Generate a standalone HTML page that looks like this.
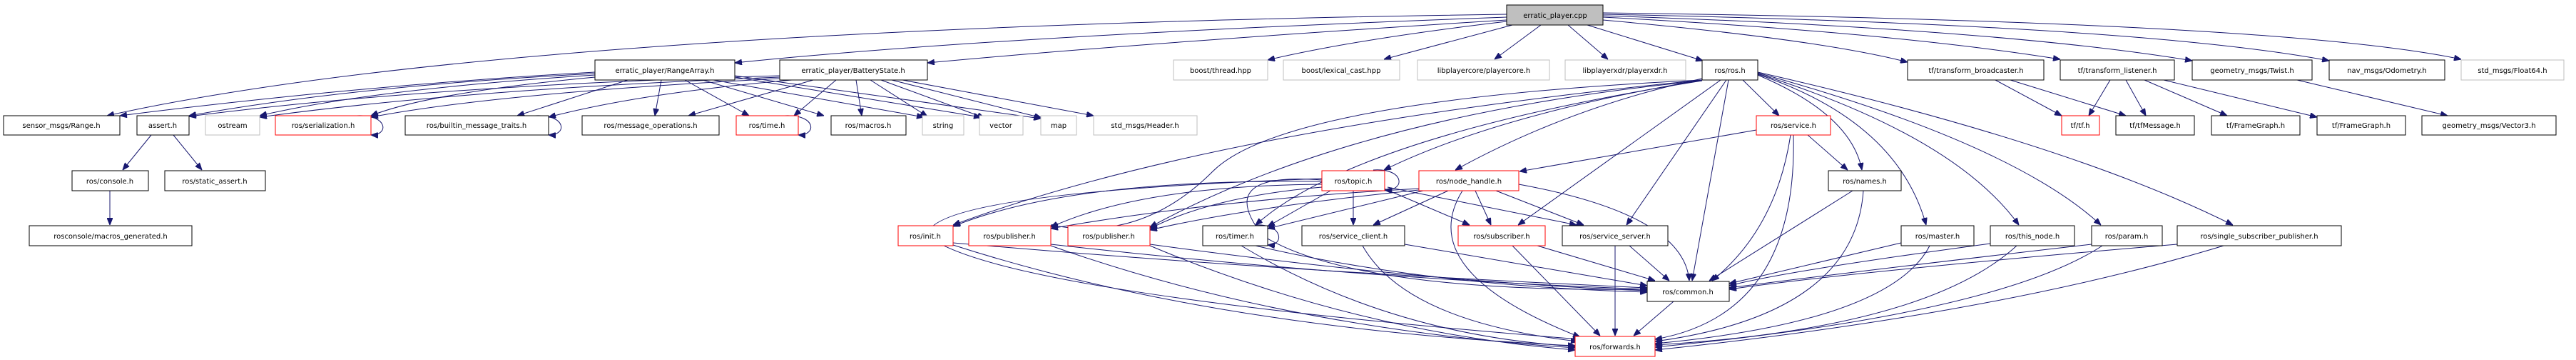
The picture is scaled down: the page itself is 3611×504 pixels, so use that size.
<!DOCTYPE html>
<html><head><meta charset="utf-8"><style>
html,body{margin:0;padding:0;background:#fff;}
svg{display:block}
text{font-family:"DejaVu Sans","Liberation Sans",sans-serif;font-size:10px;text-anchor:middle;fill:#000}
.n{fill:#fff;stroke:#000;stroke-width:1}
.r{fill:#fff;stroke:#ff0000;stroke-width:1}
.g{fill:#fff;stroke:#bfbfbf;stroke-width:1}
.e path,.e line{fill:none;stroke:#191970;stroke-width:1}
</style></head><body>
<svg width="3611" height="504" viewBox="0 0 3611 504" xmlns="http://www.w3.org/2000/svg">
<defs><marker id="a" markerWidth="10" markerHeight="8" refX="10" refY="4" orient="auto" markerUnits="userSpaceOnUse"><path d="M0,0L10,4L0,8z" fill="#191970" stroke="#191970"/></marker></defs>
<g class="e" marker-end="url(#a)">
<!-- cpp edges -->
<path d="M2112,20 Q700,40 150,162" marker-end="url(#a)"/>
<path d="M2112,24 Q1400,50 1030,88" marker-end="url(#a)"/>
<path d="M2112,28 Q1600,60 1300,88" marker-end="url(#a)"/>
<path d="M2112,30 Q1900,55 1777,84" marker-end="url(#a)"/>
<line x1="2120" y1="35" x2="1940" y2="83" marker-end="url(#a)"/>
<line x1="2160" y1="35" x2="2095" y2="83" marker-end="url(#a)"/>
<line x1="2198" y1="35" x2="2254" y2="83" marker-end="url(#a)"/>
<line x1="2225" y1="35" x2="2387" y2="85" marker-end="url(#a)"/>
<path d="M2247,28 Q2550,55 2674,87" marker-end="url(#a)"/>
<path d="M2247,24 Q2650,45 2888,83" marker-end="url(#a)"/>
<path d="M2247,22 Q2800,40 3073,85" marker-end="url(#a)"/>
<path d="M2247,20 Q3000,35 3265,85" marker-end="url(#a)"/>
<path d="M2247,18 Q3200,30 3450,83" marker-end="url(#a)"/>
<!-- RangeArray -->
<path d="M834,101 Q500,120 168,162" marker-end="url(#a)"/>
<path d="M834,103 Q500,120 265,162" marker-end="url(#a)"/>
<path d="M834,105 Q520,125 364,162" marker-end="url(#a)"/>
<path d="M834,108 Q600,130 520,162" marker-end="url(#a)"/>
<line x1="880" y1="112" x2="725" y2="162" marker-end="url(#a)"/>
<line x1="927" y1="112" x2="918" y2="162" marker-end="url(#a)"/>
<line x1="960" y1="112" x2="1050" y2="162" marker-end="url(#a)"/>
<line x1="985" y1="112" x2="1155" y2="162" marker-end="url(#a)"/>
<line x1="1000" y1="112" x2="1295" y2="164" marker-end="url(#a)"/>
<line x1="1030" y1="108" x2="1375" y2="164" marker-end="url(#a)"/>
<line x1="1030" y1="106" x2="1459" y2="166" marker-end="url(#a)"/>
<!-- BatteryState -->
<path d="M1093,106 Q600,120 265,163" marker-end="url(#a)"/>
<path d="M1093,108 Q650,125 364,164" marker-end="url(#a)"/>
<path d="M1093,110 Q700,130 520,164" marker-end="url(#a)"/>
<path d="M1110,112 Q900,130 769,164" marker-end="url(#a)"/>
<line x1="1140" y1="112" x2="965" y2="162" marker-end="url(#a)"/>
<line x1="1172" y1="112" x2="1113" y2="162" marker-end="url(#a)"/>
<line x1="1200" y1="112" x2="1208" y2="162" marker-end="url(#a)"/>
<line x1="1220" y1="112" x2="1300" y2="163" marker-end="url(#a)"/>
<line x1="1235" y1="112" x2="1380" y2="165" marker-end="url(#a)"/>
<line x1="1250" y1="112" x2="1460" y2="165" marker-end="url(#a)"/>
<line x1="1265" y1="112" x2="1533" y2="162" marker-end="url(#a)"/>
<!-- self loops -->
<path d="M500,162 C545,160 545,190 520,189" marker-end="url(#a)"/>
<path d="M750,162 C795,160 795,190 769,189" marker-end="url(#a)"/>
<path d="M1100,162 C1145,160 1145,190 1119,189" marker-end="url(#a)"/>
<path d="M1760,315 C1800,313 1800,345 1777,343" marker-end="url(#a)"/>
<path d="M1925,238 C1970,235 1970,268 1941,266" marker-end="url(#a)"/>
<!-- assert/console -->
<line x1="212" y1="189" x2="172" y2="238" marker-end="url(#a)"/>
<line x1="243" y1="189" x2="283" y2="238" marker-end="url(#a)"/>
<line x1="154" y1="267" x2="154" y2="315" marker-end="url(#a)"/>
<!-- ros.h -->
<line x1="2443" y1="112" x2="2494" y2="162" marker-end="url(#a)"/>
<path d="M2464,105 Q2595,160 2610,238" marker-end="url(#a)"/>
<path d="M2464,104 Q2660,170 2700,315" marker-end="url(#a)"/>
<path d="M2464,103 Q2740,190 2830,315" marker-end="url(#a)"/>
<path d="M2464,102 Q2820,200 2945,315" marker-end="url(#a)"/>
<path d="M2464,101 Q2900,200 3130,315" marker-end="url(#a)"/>
<path d="M2386,110 Q2200,150 2040,238" marker-end="url(#a)"/>
<path d="M2386,112 Q2100,160 1940,238" marker-end="url(#a)"/>
<line x1="2412" y1="112" x2="2128" y2="315" marker-end="url(#a)"/>
<line x1="2420" y1="112" x2="2280" y2="315" marker-end="url(#a)"/>
<line x1="2423" y1="112" x2="2372" y2="393" marker-end="url(#a)"/>
<path d="M2386,112 Q1700,180 1336,315" marker-end="url(#a)"/>
<path d="M2386,112 Q1800,140 1700,240 T1473,315" marker-end="url(#a)"/>
<path d="M2386,113 Q1900,160 1612,318" marker-end="url(#a)"/>
<path d="M2386,113 Q1900,190 1760,315" marker-end="url(#a)"/>
<!-- service.h -->
<line x1="2462" y1="182" x2="2130" y2="240" marker-end="url(#a)"/>
<line x1="2534" y1="189" x2="2590" y2="238" marker-end="url(#a)"/>
<path d="M2510,189 Q2490,320 2400,393" marker-end="url(#a)"/>
<path d="M2514,189 Q2520,440 2320,475" marker-end="url(#a)"/>
<!-- topic.h -->
<line x1="1897" y1="267" x2="1897" y2="315" marker-end="url(#a)"/>
<path d="M1853,254 Q1500,250 1336,317" marker-end="url(#a)"/>
<path d="M1853,258 Q1600,260 1473,318" marker-end="url(#a)"/>
<path d="M1853,262 Q1700,275 1612,320" marker-end="url(#a)"/>
<line x1="1865" y1="267" x2="1777" y2="317" marker-end="url(#a)"/>
<line x1="1940" y1="264" x2="2060" y2="315" marker-end="url(#a)"/>
<line x1="1945" y1="262" x2="2210" y2="315" marker-end="url(#a)"/>
<path d="M1853,250 Q1300,270 1300,330 Q1400,410 2215,475" marker-end="url(#a)"/>
<path d="M1853,252 Q1700,240 1770,330 Q1900,410 2309,405" marker-end="url(#a)"/>
<!-- node_handle -->
<path d="M1989,264 Q1700,280 1473,320" marker-end="url(#a)"/>
<path d="M1989,266 Q1750,290 1612,322" marker-end="url(#a)"/>
<line x1="1995" y1="267" x2="1777" y2="320" marker-end="url(#a)"/>
<line x1="2030" y1="267" x2="1925" y2="315" marker-end="url(#a)"/>
<line x1="2068" y1="267" x2="2090" y2="315" marker-end="url(#a)"/>
<line x1="2097" y1="267" x2="2220" y2="315" marker-end="url(#a)"/>
<path d="M2050,267 Q1980,380 2215,472" marker-end="url(#a)"/>
<path d="M2129,258 Q2360,300 2368,393" marker-end="url(#a)"/>
<!-- row E -> common/forwards -->
<path d="M1336,340 Q1800,380 2309,403" marker-end="url(#a)"/>
<path d="M1336,343 Q1700,460 2208,484" marker-end="url(#a)"/>
<path d="M1473,342 Q1900,390 2309,405" marker-end="url(#a)"/>
<path d="M1473,344 Q1800,460 2208,487" marker-end="url(#a)"/>
<path d="M1612,342 Q2000,395 2309,407" marker-end="url(#a)"/>
<path d="M1612,344 Q1900,465 2208,490" marker-end="url(#a)"/>
<path d="M1760,344 Q2000,400 2309,409" marker-end="url(#a)"/>
<path d="M1740,344 Q1950,470 2210,485" marker-end="url(#a)"/>
<line x1="1969" y1="342" x2="2309" y2="400" marker-end="url(#a)"/>
<path d="M1910,344 Q1970,450 2212,478" marker-end="url(#a)"/>
<line x1="2155" y1="344" x2="2320" y2="393" marker-end="url(#a)"/>
<line x1="2120" y1="344" x2="2243" y2="470" marker-end="url(#a)"/>
<line x1="2284" y1="344" x2="2340" y2="393" marker-end="url(#a)"/>
<line x1="2264" y1="344" x2="2264" y2="470" marker-end="url(#a)"/>
<line x1="2597" y1="267" x2="2396" y2="393" marker-end="url(#a)"/>
<path d="M2612,267 Q2600,440 2320,478" marker-end="url(#a)"/>
<line x1="2665" y1="340" x2="2424" y2="397" marker-end="url(#a)"/>
<path d="M2705,344 Q2650,450 2320,481" marker-end="url(#a)"/>
<path d="M2790,341 Q2500,380 2424,400" marker-end="url(#a)"/>
<path d="M2827,344 Q2700,460 2320,483" marker-end="url(#a)"/>
<path d="M2932,342 Q2600,380 2424,403" marker-end="url(#a)"/>
<path d="M2947,344 Q2800,440 2320,486" marker-end="url(#a)"/>
<path d="M3052,342 Q2600,380 2424,405" marker-end="url(#a)"/>
<path d="M3117,344 Q2800,440 2320,490" marker-end="url(#a)"/>
<line x1="2346" y1="422" x2="2290" y2="470" marker-end="url(#a)"/>
<!-- tf -->
<line x1="2797" y1="112" x2="2890" y2="162" marker-end="url(#a)"/>
<line x1="2818" y1="112" x2="2980" y2="162" marker-end="url(#a)"/>
<line x1="2958" y1="112" x2="2928" y2="162" marker-end="url(#a)"/>
<line x1="2980" y1="112" x2="3008" y2="162" marker-end="url(#a)"/>
<line x1="3006" y1="112" x2="3122" y2="162" marker-end="url(#a)"/>
<line x1="3033" y1="112" x2="3248" y2="164" marker-end="url(#a)"/>
<line x1="3220" y1="112" x2="3431" y2="162" marker-end="url(#a)"/>
</g>
<g>
<rect class="n" x="2112" y="7" width="135" height="28" style="fill:#bfbfbf"/><text x="2180" y="25">erratic_player.cpp</text>
<rect class="n" x="834" y="84" width="196" height="28"/><text x="932" y="102">erratic_player/RangeArray.h</text>
<rect class="n" x="1093" y="84" width="207" height="28"/><text x="1196" y="102">erratic_player/BatteryState.h</text>
<rect class="g" x="1645" y="84" width="132" height="28"/><text x="1711" y="102">boost/thread.hpp</text>
<rect class="g" x="1799" y="84" width="163" height="28"/><text x="1880" y="102">boost/lexical_cast.hpp</text>
<rect class="g" x="1987" y="84" width="185" height="28"/><text x="2080" y="102">libplayercore/playercore.h</text>
<rect class="g" x="2194" y="84" width="169" height="28"/><text x="2278" y="102">libplayerxdr/playerxdr.h</text>
<rect class="n" x="2386" y="84" width="78" height="28"/><text x="2425" y="102">ros/ros.h</text>
<rect class="n" x="2674" y="84" width="191" height="28"/><text x="2770" y="102">tf/transform_broadcaster.h</text>
<rect class="n" x="2888" y="84" width="160" height="28"/><text x="2968" y="102">tf/transform_listener.h</text>
<rect class="n" x="3073" y="84" width="168" height="28"/><text x="3157" y="102">geometry_msgs/Twist.h</text>
<rect class="n" x="3265" y="84" width="162" height="28"/><text x="3346" y="102">nav_msgs/Odometry.h</text>
<rect class="g" x="3450" y="84" width="144" height="28"/><text x="3522" y="102">std_msgs/Float64.h</text>

<rect class="n" x="5" y="162" width="163" height="27"/><text x="86" y="179">sensor_msgs/Range.h</text>
<rect class="n" x="192" y="162" width="73" height="27"/><text x="228" y="179">assert.h</text>
<rect class="g" x="288" y="162" width="76" height="27"/><text x="326" y="179">ostream</text>
<rect class="r" x="386" y="162" width="134" height="27"/><text x="453" y="179">ros/serialization.h</text>
<rect class="n" x="568" y="162" width="201" height="27"/><text x="668" y="179">ros/builtin_message_traits.h</text>
<rect class="n" x="816" y="162" width="192" height="27"/><text x="912" y="179">ros/message_operations.h</text>
<rect class="r" x="1032" y="162" width="87" height="27"/><text x="1075" y="179">ros/time.h</text>
<rect class="n" x="1165" y="162" width="105" height="27"/><text x="1217" y="179">ros/macros.h</text>
<rect class="g" x="1293" y="162" width="58" height="27"/><text x="1322" y="179">string</text>
<rect class="g" x="1373" y="162" width="61" height="27"/><text x="1403" y="179">vector</text>
<rect class="g" x="1459" y="162" width="50" height="27"/><text x="1484" y="179">map</text>
<rect class="g" x="1533" y="162" width="145" height="27"/><text x="1605" y="179">std_msgs/Header.h</text>
<rect class="r" x="2462" y="162" width="104" height="27"/><text x="2514" y="179">ros/service.h</text>
<rect class="r" x="2890" y="162" width="53" height="27"/><text x="2916" y="179">tf/tf.h</text>
<rect class="n" x="2966" y="162" width="110" height="27"/><text x="3021" y="179">tf/tfMessage.h</text>
<rect class="n" x="3100" y="162" width="124" height="27"/><text x="3162" y="179">tf/FrameGraph.h</text>
<rect class="n" x="3248" y="162" width="124" height="27"/><text x="3310" y="179">tf/FrameGraph.h</text>
<rect class="n" x="3395" y="162" width="188" height="27"/><text x="3489" y="179">geometry_msgs/Vector3.h</text>

<rect class="n" x="101" y="239" width="107" height="28"/><text x="154" y="257">ros/console.h</text>
<rect class="n" x="231" y="239" width="141" height="28"/><text x="301" y="257">ros/static_assert.h</text>
<rect class="r" x="1853" y="239" width="88" height="28"/><text x="1897" y="257">ros/topic.h</text>
<rect class="r" x="1989" y="239" width="140" height="28"/><text x="2059" y="257">ros/node_handle.h</text>
<rect class="n" x="2563" y="239" width="102" height="28"/><text x="2614" y="257">ros/names.h</text>

<rect class="n" x="41" y="316" width="228" height="28"/><text x="155" y="334">rosconsole/macros_generated.h</text>
<rect class="r" x="1259" y="316" width="77" height="28"/><text x="1297" y="334">ros/init.h</text>
<rect class="r" x="1358" y="316" width="115" height="28"/><text x="1415" y="334">ros/publisher.h</text>
<rect class="r" x="1497" y="316" width="115" height="28"/><text x="1554" y="334">ros/publisher.h</text>
<rect class="n" x="1686" y="316" width="91" height="28"/><text x="1731" y="334">ros/timer.h</text>
<rect class="n" x="1825" y="316" width="144" height="28"/><text x="1897" y="334">ros/service_client.h</text>
<rect class="r" x="2044" y="316" width="122" height="28"/><text x="2105" y="334">ros/subscriber.h</text>
<rect class="n" x="2190" y="316" width="148" height="28"/><text x="2264" y="334">ros/service_server.h</text>
<rect class="n" x="2665" y="316" width="102" height="28"/><text x="2716" y="334">ros/master.h</text>
<rect class="n" x="2790" y="316" width="118" height="28"/><text x="2849" y="334">ros/this_node.h</text>
<rect class="n" x="2932" y="316" width="99" height="28"/><text x="2981" y="334">ros/param.h</text>
<rect class="n" x="3052" y="316" width="230" height="28"/><text x="3167" y="334">ros/single_subscriber_publisher.h</text>

<rect class="n" x="2309" y="394" width="115" height="28"/><text x="2366" y="412">ros/common.h</text>
<rect class="r" x="2208" y="471" width="112" height="28"/><text x="2264" y="489">ros/forwards.h</text>
</g>
</svg>
</body></html>
